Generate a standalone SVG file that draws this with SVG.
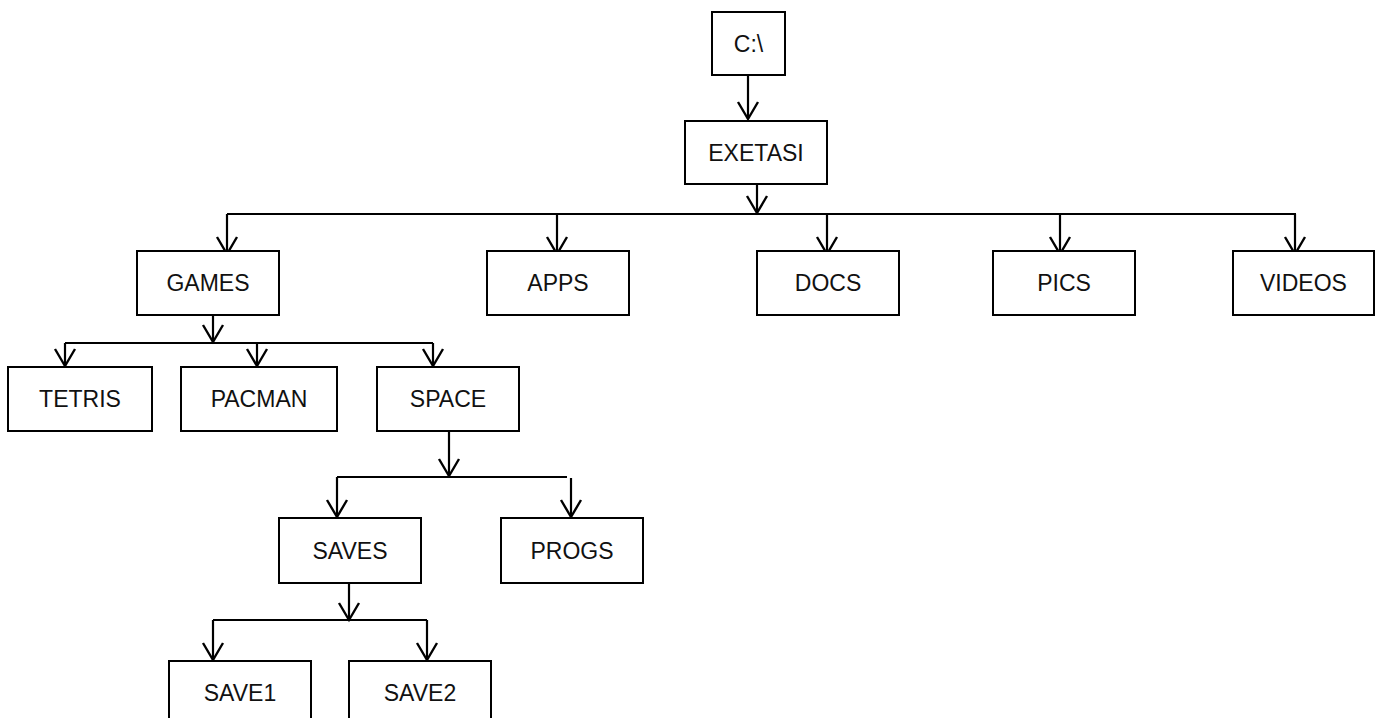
<svg xmlns="http://www.w3.org/2000/svg" width="1376" height="718" viewBox="0 0 1376 718">
<style>
.box{fill:#fff;stroke:#000;stroke-width:2}
.lbl{font-family:"Liberation Sans",Arial,sans-serif;font-size:23px;fill:#111;text-anchor:middle}
.c{fill:none;stroke:#000;stroke-width:2.2}
.a{fill:none;stroke:#000;stroke-width:2.2;marker-end:url(#arr)}
</style>
<defs>
<marker id="arr" markerUnits="userSpaceOnUse" orient="auto" refX="0" refY="0" markerWidth="40" markerHeight="40" overflow="visible">
<path d="M-17,-10 L0,0 L-17,10" fill="none" stroke="#000" stroke-width="2.4"/>
</marker>
</defs>
<rect width="1376" height="718" fill="#fff"/>
<g id="connectors">
<path class="a" d="M748,75 V119"/>
<path class="a" d="M757,184 V213"/>
<path class="c" d="M227,214 H1296"/>
<path class="a" d="M227,214 V254"/>
<path class="a" d="M557,214 V254"/>
<path class="a" d="M827,214 V254"/>
<path class="a" d="M1060,214 V254"/>
<path class="a" d="M1295,214 V254"/>
<path class="a" d="M213,315 V342"/>
<path class="c" d="M65,343 H433"/>
<path class="a" d="M65,343 V366"/>
<path class="a" d="M257,343 V366"/>
<path class="a" d="M433,343 V366"/>
<path class="a" d="M449,431 V476"/>
<path class="c" d="M337,477 H567"/>
<path class="a" d="M337,477 V517"/>
<path class="a" d="M571,478 V517"/>
<path class="a" d="M349,583 V620"/>
<path class="c" d="M213,620 H427"/>
<path class="a" d="M213,620 V660"/>
<path class="a" d="M427,620 V660"/>
</g>
<g id="n-c"><rect class="box" x="712" y="12" width="73" height="63"/><text class="lbl" x="748.5" y="52">C:\</text></g>
<g id="n-exetasi"><rect class="box" x="685" y="121" width="142" height="63"/><text class="lbl" x="756" y="161">EXETASI</text></g>
<g id="n-games"><rect class="box" x="137" y="251" width="142" height="64"/><text class="lbl" x="208" y="291">GAMES</text></g>
<g id="n-apps"><rect class="box" x="487" y="251" width="142" height="64"/><text class="lbl" x="558" y="291">APPS</text></g>
<g id="n-docs"><rect class="box" x="757" y="251" width="142" height="64"/><text class="lbl" x="828" y="291">DOCS</text></g>
<g id="n-pics"><rect class="box" x="993" y="251" width="142" height="64"/><text class="lbl" x="1064" y="291">PICS</text></g>
<g id="n-videos"><rect class="box" x="1233" y="251" width="141" height="64"/><text class="lbl" x="1303.5" y="291">VIDEOS</text></g>
<g id="n-tetris"><rect class="box" x="8" y="367" width="144" height="64"/><text class="lbl" x="80" y="407">TETRIS</text></g>
<g id="n-pacman"><rect class="box" x="181" y="367" width="156" height="64"/><text class="lbl" x="259" y="407">PACMAN</text></g>
<g id="n-space"><rect class="box" x="377" y="367" width="142" height="64"/><text class="lbl" x="448" y="407">SPACE</text></g>
<g id="n-saves"><rect class="box" x="279" y="518" width="142" height="65"/><text class="lbl" x="350" y="559">SAVES</text></g>
<g id="n-progs"><rect class="box" x="501" y="518" width="142" height="65"/><text class="lbl" x="572" y="559">PROGS</text></g>
<g id="n-save1"><rect class="box" x="169" y="661" width="142" height="70"/><text class="lbl" x="240" y="701">SAVE1</text></g>
<g id="n-save2"><rect class="box" x="349" y="661" width="142" height="70"/><text class="lbl" x="420" y="701">SAVE2</text></g>
</svg>
